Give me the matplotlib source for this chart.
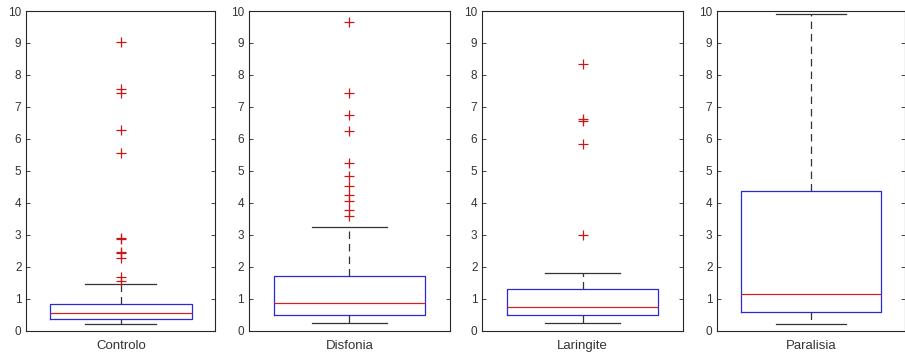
import matplotlib
matplotlib.use("Agg")
import matplotlib.pyplot as plt

plt.rcParams['font.family'] = ['Liberation Sans', 'DejaVu Sans']

groups = ['Controlo', 'Disfonia', 'Laringite', 'Paralisia']
q1 = [0.375, 0.50, 0.48, 0.58]
med = [0.54, 0.865, 0.73, 1.15]
q3 = [0.83, 1.71, 1.29, 4.36]
whislo = [0.21, 0.25, 0.24, 0.21]
whishi = [1.45, 3.25, 1.81, 9.90]
fliers = [
    [1.56, 1.69, 2.27, 2.43, 2.45, 2.86, 2.90, 5.56, 6.27, 7.42, 7.57, 9.02],
    [3.58, 3.79, 4.06, 4.25, 4.53, 4.83, 5.24, 6.25, 6.75, 7.44, 9.65],
    [2.99, 5.85, 6.57, 6.62, 8.33],
    [],
]
yticks = list(range(0, 11))

W, H = 905, 354
# axes edges in pixels: left, right
edges = [(26.3, 215.3), (249, 449.7), (482.3, 683.3), (717.3, 904.5)]
top, bottom = 11, 330.7

fig = plt.figure(figsize=(W / 100, H / 100), dpi=100)
for i, g in enumerate(groups):
    l, r = edges[i]
    ax = fig.add_axes([l / W, (H - bottom) / H, (r - l) / W, (bottom - top) / H])
    stats = [dict(q1=q1[i], med=med[i], q3=q3[i], whislo=whislo[i],
                  whishi=whishi[i], fliers=fliers[i], label=g)]
    ax.bxp(stats, positions=[1], widths=0.75, capwidths=0.375,
           boxprops=dict(color='#2b2bd6', linewidth=0.9),
           medianprops=dict(color='#d42020', linewidth=0.9),
           whiskerprops=dict(color='#333333', linewidth=0.9, linestyle=(0, (6, 4))),
           capprops=dict(color='#333333', linewidth=0.9),
           flierprops=dict(marker='+', markeredgecolor='#c81818',
                           markersize=7, markeredgewidth=0.9, linestyle='none'))
    ax.set_xlim(0.5, 1.5)
    ax.set_ylim(0, 10)
    ax.set_yticks(yticks)
    ax.tick_params(axis='both', direction='in', labelsize=8.5, colors='#262626',
                   labelcolor='#333333', length=3, width=0.6, right=True, top=False)
    ax.tick_params(axis='x', length=0, pad=7, labelsize=9.5)
    for s in ax.spines.values():
        s.set_color('#262626')
        s.set_linewidth(0.8)

fig.savefig('out.png', dpi=100)
